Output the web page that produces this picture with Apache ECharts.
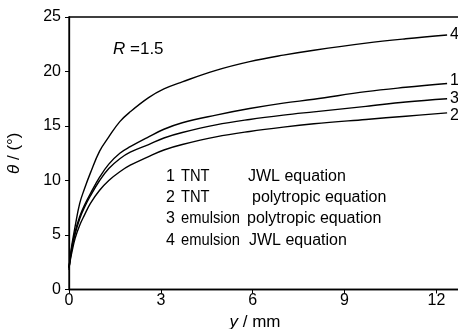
<!DOCTYPE html>
<html>
<head>
<meta charset="utf-8">
<script src="https://cdn.jsdelivr.net/npm/echarts@6/dist/echarts.min.js"></script>
<style>
html,body{margin:0;padding:0;background:#fff;}
#chart{width:458px;height:329px;}
</style>
</head>
<body>
<div id="chart"></div>
<script>
// ---- data ----
const xs = [0, 0.05, 0.1, 0.2, 0.35, 0.5, 0.7, 1, 1.3, 1.66, 2, 2.6, 3.1, 3.7, 4.8, 5.9, 7, 8, 9.7, 11, 12.35];
const curve1 = [2.0, 3.1, 4.0, 5.3, 6.7, 7.7, 8.8, 10.3, 11.5, 12.5, 13.1, 14.0, 14.7, 15.3, 16.0, 16.6, 17.1, 17.45, 18.15, 18.55, 18.9];
const curve2 = [2.0, 2.8, 3.5, 4.7, 5.9, 6.8, 7.9, 9.1, 10.0, 10.8, 11.4, 12.2, 12.8, 13.3, 14.0, 14.5, 14.9, 15.2, 15.6, 15.9, 16.2];
const curve3 = [2.0, 3.0, 3.8, 5.1, 6.5, 7.5, 8.6, 10.0, 11.1, 12.0, 12.6, 13.3, 13.9, 14.4, 15.1, 15.6, 16.0, 16.3, 16.8, 17.2, 17.5];
const curve4 = [1.8, 3.2, 4.2, 5.8, 7.9, 9.2, 10.7, 12.7, 14.0, 15.4, 16.3, 17.6, 18.4, 19.05, 20.1, 20.9, 21.5, 21.95, 22.6, 23.0, 23.35];
const curveIds = ['1', '2', '3', '4'];
const curveMaterials = ['TNT', 'TNT', 'emulsion', 'emulsion'];
const curveEquations = ['JWL equation', 'polytropic equation', 'polytropic equation', 'JWL equation'];
const xTicks = [0, 3, 6, 9, 12];
const yTicks = [0, 5, 10, 15, 20, 25];
const annotation = 'R';
const annotationValue = '=1.5';

const curves = [curve1, curve2, curve3, curve4];
const FONT = '"Liberation Sans", Arial, sans-serif';

const chart = echarts.init(document.getElementById('chart'), null, {renderer: 'canvas'});

const series = curves.map((vals, i) => ({
  name: curveIds[i] + ' ' + curveMaterials[i] + ' ' + curveEquations[i],
  type: 'line',
  smooth: 0.4,
  showSymbol: false,
  symbol: 'none',
  data: xs.map((x, k) => [x, vals[k]]),
  lineStyle: {color: '#000', width: 1.4},
  endLabel: {
    show: true,
    formatter: () => curveIds[i],
    color: '#000',
    fontFamily: FONT,
    fontSize: 16,
    distance: 3,
    offset: [0, i === 0 ? -3 : (i === 1 ? 3 : 0)]
  },
  z: 3
}));

// legend block as text rows
const rowY = [178, 199, 220, 241.5];
const eqX = [248, 252, 247, 249];
const graphics = [];
curveIds.forEach((id, i) => {
  graphics.push({type: 'text', left: 166, top: rowY[i] - 9,
    style: {text: id, font: '16px ' + FONT, fill: '#000'}});
  graphics.push({type: 'text', x: 181, y: rowY[i] - 9, scaleX: 0.92,
    style: {text: curveMaterials[i], font: '16px ' + FONT, fill: '#000'}});
  graphics.push({type: 'text', left: eqX[i], top: rowY[i] - 9,
    style: {text: curveEquations[i], font: '16px ' + FONT, fill: '#000'}});
});
graphics.push({type: 'text', left: 113, top: 41,
  style: {rich: {i: {fontStyle: 'italic', fontSize: 17, fontFamily: FONT, fill: '#000'},
                 n: {fontSize: 17, fontFamily: FONT, fill: '#000'}},
          text: '{i|' + annotation + '}{n| ' + annotationValue + '}'}});

chart.setOption({
  animation: false,
  backgroundColor: '#fff',
  grid: {left: 69, top: 17, width: 398, height: 272.5, outerBoundsMode: 'none', containLabel: false,
    show: true, borderColor: '#000', borderWidth: 1.3, backgroundColor: 'transparent'},
  xAxis: {
    type: 'value', min: 0, max: 13, interval: 3,
    name: '{i|y} / mm',
    nameLocation: 'middle', nameGap: 16,
    nameTextStyle: {color: '#000', fontFamily: FONT, fontSize: 17, padding: [0, 26, 0, 0],
      rich: {i: {fontStyle: 'italic', fontFamily: FONT, fontSize: 17, color: '#000'}}},
    axisLine: {lineStyle: {color: '#000', width: 1.3}},
    axisTick: {show: true, length: 4, inside: false, lineStyle: {color: '#000'}},
    axisLabel: {color: '#000', fontFamily: FONT, fontSize: 16, margin: 3, showMaxLabel: false,
      formatter: v => (xTicks.indexOf(v) >= 0 ? String(v) : '')},
    splitLine: {show: false}
  },
  yAxis: {
    type: 'value', min: 0, max: 25, interval: 5,
    name: '{i|θ} / (°)',
    nameLocation: 'middle', nameRotate: 90, nameGap: 46,
    nameTextStyle: {color: '#000', fontFamily: FONT, fontSize: 17,
      rich: {i: {fontStyle: 'italic', fontFamily: FONT, fontSize: 17, color: '#000'}}},
    axisLine: {show: true, lineStyle: {color: '#000', width: 1.3}},
    axisTick: {show: true, length: 4, inside: false, lineStyle: {color: '#000'}},
    axisLabel: {color: '#000', fontFamily: FONT, fontSize: 16, margin: 8,
      formatter: v => (yTicks.indexOf(v) >= 0 ? String(v) : '')},
    splitLine: {show: false}
  },
  graphic: graphics,
  series: series
});
</script>
</body>
</html>
